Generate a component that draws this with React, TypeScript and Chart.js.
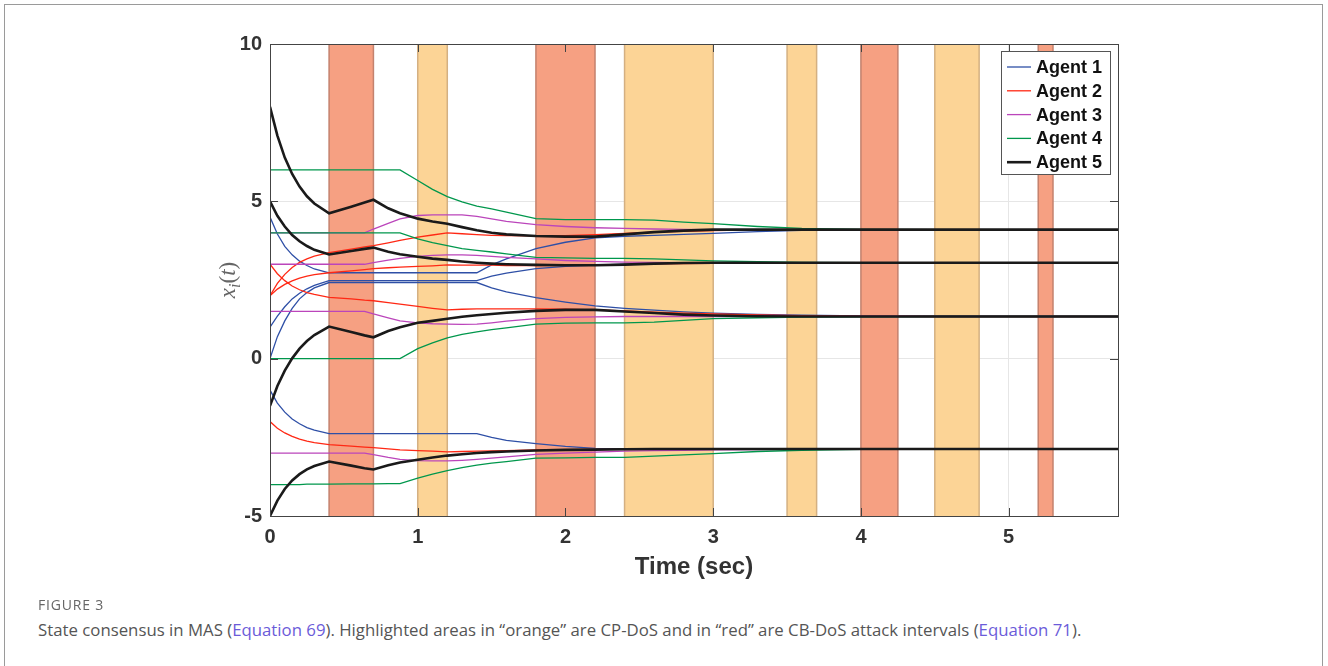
import React, { useEffect, useRef } from "react";
import { Chart, registerables } from "chart.js";

Chart.register(...registerables);

// ---------- data ----------
const TIME = [0, 0.05, 0.1, 0.15, 0.2, 0.25, 0.3, 0.4, 0.55, 0.64, 0.7, 0.8, 0.88, 1.0, 1.1, 1.2, 1.3, 1.4, 1.5, 1.6, 1.8, 2.0, 2.2, 2.4, 2.6, 2.8, 3.0, 3.3, 3.6, 4.0, 4.5, 5.74];

const AGENT1_C1 = [4.5, 3.96, 3.57, 3.3, 3.1, 2.96, 2.85, 2.73, 2.73, 2.73, 2.73, 2.73, 2.73, 2.73, 2.73, 2.73, 2.73, 2.73, 2.98, 3.17, 3.5, 3.7, 3.84, 3.89, 3.92, 3.95, 3.98, 4.04, 4.08, 4.1, 4.1, 4.1];
const AGENT1_C2 = [1.0, 1.35, 1.65, 1.9, 2.08, 2.22, 2.33, 2.48, 2.48, 2.48, 2.48, 2.48, 2.48, 2.48, 2.48, 2.48, 2.48, 2.48, 2.62, 2.72, 2.86, 2.93, 2.97, 3.0, 3.02, 3.03, 3.04, 3.05, 3.05, 3.05, 3.05, 3.05];
const AGENT1_C3 = [0, 0.7, 1.2, 1.6, 1.9, 2.1, 2.25, 2.42, 2.42, 2.42, 2.42, 2.42, 2.42, 2.42, 2.42, 2.42, 2.42, 2.42, 2.25, 2.12, 1.94, 1.8, 1.68, 1.6, 1.54, 1.49, 1.45, 1.41, 1.38, 1.36, 1.35, 1.34];
const AGENT1_C4 = [-1, -1.41, -1.7, -1.92, -2.07, -2.19, -2.27, -2.38, -2.38, -2.38, -2.38, -2.38, -2.38, -2.38, -2.38, -2.38, -2.38, -2.38, -2.5, -2.6, -2.7, -2.79, -2.85, -2.87, -2.87, -2.87, -2.87, -2.87, -2.87, -2.87, -2.87, -2.87];

const AGENT2_C1 = [2, 2.39, 2.68, 2.9, 3.06, 3.17, 3.26, 3.37, 3.48, 3.55, 3.59, 3.68, 3.76, 3.86, 3.93, 4.0, 3.97, 3.94, 3.92, 3.91, 3.9, 3.91, 3.94, 3.98, 4.02, 4.05, 4.07, 4.09, 4.1, 4.1, 4.1, 4.1];
const AGENT2_C2 = [2, 2.21, 2.36, 2.47, 2.56, 2.62, 2.67, 2.73, 2.79, 2.83, 2.86, 2.89, 2.91, 2.93, 2.95, 2.98, 2.97, 2.97, 2.97, 2.96, 2.96, 2.97, 2.98, 2.99, 3.01, 3.02, 3.03, 3.04, 3.05, 3.05, 3.05, 3.05];
const AGENT2_C3 = [3, 2.7, 2.48, 2.31, 2.19, 2.1, 2.04, 1.95, 1.9, 1.86, 1.84, 1.78, 1.73, 1.66, 1.6, 1.55, 1.57, 1.58, 1.58, 1.58, 1.58, 1.57, 1.55, 1.52, 1.48, 1.45, 1.42, 1.39, 1.37, 1.35, 1.34, 1.34];
const AGENT2_C4 = [-2, -2.21, -2.36, -2.47, -2.56, -2.62, -2.67, -2.73, -2.78, -2.81, -2.83, -2.87, -2.9, -2.92, -2.94, -2.96, -2.95, -2.94, -2.93, -2.92, -2.9, -2.89, -2.88, -2.88, -2.87, -2.87, -2.87, -2.87, -2.87, -2.87, -2.87, -2.87];

const AGENT3_C1 = [4, 4, 4, 4, 4, 4, 4, 4, 4, 4, 4.12, 4.3, 4.44, 4.55, 4.57, 4.57, 4.57, 4.52, 4.44, 4.36, 4.26, 4.2, 4.16, 4.14, 4.12, 4.11, 4.1, 4.1, 4.1, 4.1, 4.1, 4.1];
const AGENT3_C2 = [3, 3, 3, 3, 3, 3, 3, 3, 3, 3, 3.05, 3.13, 3.19, 3.25, 3.28, 3.3, 3.3, 3.28, 3.25, 3.22, 3.17, 3.12, 3.09, 3.07, 3.06, 3.05, 3.05, 3.05, 3.05, 3.05, 3.05, 3.05];
const AGENT3_C3 = [1.5, 1.5, 1.5, 1.5, 1.5, 1.5, 1.5, 1.5, 1.5, 1.5, 1.42, 1.3, 1.2, 1.14, 1.11, 1.1, 1.09, 1.1, 1.14, 1.19, 1.27, 1.31, 1.33, 1.34, 1.34, 1.34, 1.34, 1.34, 1.34, 1.34, 1.34, 1.34];
const AGENT3_C4 = [-3, -3, -3, -3, -3, -3, -3, -3, -3, -3, -3.05, -3.14, -3.2, -3.24, -3.25, -3.25, -3.23, -3.2, -3.16, -3.12, -3.04, -3.0, -2.97, -2.94, -2.92, -2.91, -2.9, -2.89, -2.88, -2.87, -2.87, -2.87];

const AGENT4_C1 = [6, 6, 6, 6, 6, 6, 6, 6, 6, 6, 6, 6, 6, 5.66, 5.38, 5.15, 4.98, 4.85, 4.76, 4.66, 4.45, 4.42, 4.42, 4.42, 4.4, 4.34, 4.29, 4.2, 4.14, 4.11, 4.1, 4.1];
const AGENT4_C2 = [4, 4, 4, 4, 4, 4, 4, 4, 4, 4, 4, 4, 4, 3.81, 3.69, 3.59, 3.5, 3.44, 3.39, 3.33, 3.22, 3.2, 3.19, 3.19, 3.17, 3.14, 3.11, 3.08, 3.06, 3.05, 3.05, 3.05];
const AGENT4_C3 = [0, 0, 0, 0, 0, 0, 0, 0, 0, 0, 0, 0, 0, 0.32, 0.5, 0.66, 0.77, 0.85, 0.92, 0.98, 1.1, 1.13, 1.14, 1.14, 1.16, 1.22, 1.27, 1.3, 1.32, 1.33, 1.34, 1.34];
const AGENT4_C4 = [-4, -4, -4, -4, -4, -3.99, -3.99, -3.99, -3.98, -3.98, -3.98, -3.97, -3.97, -3.8, -3.67, -3.56, -3.46, -3.38, -3.32, -3.27, -3.16, -3.15, -3.14, -3.14, -3.1, -3.06, -3.02, -2.95, -2.91, -2.88, -2.87, -2.87];

const AGENT5_C1 = [8, 7.09, 6.39, 5.87, 5.47, 5.16, 4.93, 4.62, 4.83, 4.96, 5.05, 4.78, 4.62, 4.45, 4.36, 4.29, 4.18, 4.08, 4.0, 3.95, 3.9, 3.88, 3.88, 3.95, 4.02, 4.07, 4.1, 4.1, 4.1, 4.1, 4.1, 4.1];
const AGENT5_C2 = [5, 4.54, 4.2, 3.93, 3.73, 3.58, 3.46, 3.31, 3.42, 3.49, 3.53, 3.4, 3.32, 3.24, 3.18, 3.14, 3.09, 3.05, 3.02, 3.0, 2.98, 2.97, 2.97, 2.99, 3.02, 3.04, 3.05, 3.05, 3.05, 3.05, 3.05, 3.05];
const AGENT5_C3 = [-1.5, -0.87, -0.38, 0.01, 0.32, 0.56, 0.75, 1.02, 0.85, 0.74, 0.68, 0.88, 1.0, 1.14, 1.2, 1.27, 1.33, 1.38, 1.42, 1.46, 1.52, 1.55, 1.55, 1.5, 1.45, 1.4, 1.37, 1.35, 1.34, 1.34, 1.34, 1.34];
const AGENT5_C4 = [-5, -4.51, -4.14, -3.87, -3.67, -3.52, -3.41, -3.27, -3.4, -3.48, -3.52, -3.39, -3.3, -3.21, -3.14, -3.08, -3.04, -3.0, -2.97, -2.95, -2.92, -2.9, -2.89, -2.88, -2.87, -2.87, -2.87, -2.87, -2.87, -2.87, -2.87, -2.87];

const AGENT_NAMES = ["Agent 1", "Agent 2", "Agent 3", "Agent 4", "Agent 5"];
const AGENT_STATES = [
  [AGENT1_C1, AGENT1_C2, AGENT1_C3, AGENT1_C4],
  [AGENT2_C1, AGENT2_C2, AGENT2_C3, AGENT2_C4],
  [AGENT3_C1, AGENT3_C2, AGENT3_C3, AGENT3_C4],
  [AGENT4_C1, AGENT4_C2, AGENT4_C3, AGENT4_C4],
  [AGENT5_C1, AGENT5_C2, AGENT5_C3, AGENT5_C4],
];

// attack intervals (sec)
const CP_DOS_INTERVALS = [[1.0, 1.2], [2.4, 3.0], [3.5, 3.7], [4.5, 4.8]];
const CB_DOS_INTERVALS = [[0.4, 0.7], [1.8, 2.2], [4.0, 4.25], [5.2, 5.3]];

const X_MIN = 0;
const X_MAX = 5.74;
const Y_MIN = -5;
const Y_MAX = 10;

// ---------- styles ----------
const AGENT_COLORS = ["#2E4FA6", "#FF2814", "#BB45BB", "#00974C", "#1A1A1A"];
const AGENT_WIDTHS = [1.3, 1.3, 1.3, 1.3, 2.6];
const CB_FILL = "rgb(246,160,130)";
const CB_EDGE = "rgb(196,130,110)";
const CP_FILL = "rgb(252,212,150)";
const CP_EDGE = "rgb(212,176,130)";
const AXIS_COLOR = "#444444";
const TICK_FONT = "Liberation Sans, Arial, sans-serif";

const shadingPlugin = {
  id: "shading",
  beforeDatasetsDraw(chart: any) {
    const { ctx, chartArea, scales } = chart;
    const xs = scales.x;
    ctx.save();
    ctx.beginPath();
    ctx.rect(chartArea.left, chartArea.top, chartArea.right - chartArea.left, chartArea.bottom - chartArea.top);
    ctx.clip();
    const drawSet = (list: number[][], fill: string, edge: string) => {
      for (const [a, b] of list) {
        const x0 = xs.getPixelForValue(a);
        const x1 = xs.getPixelForValue(b);
        ctx.fillStyle = fill;
        ctx.fillRect(x0, chartArea.top, x1 - x0, chartArea.bottom - chartArea.top);
        ctx.strokeStyle = edge;
        ctx.lineWidth = 1.5;
        ctx.beginPath();
        ctx.moveTo(x0, chartArea.top);
        ctx.lineTo(x0, chartArea.bottom);
        ctx.moveTo(x1, chartArea.top);
        ctx.lineTo(x1, chartArea.bottom);
        ctx.stroke();
      }
    };
    drawSet(CB_DOS_INTERVALS, CB_FILL, CB_EDGE);
    drawSet(CP_DOS_INTERVALS, CP_FILL, CP_EDGE);
    ctx.restore();
  },
};

const framePlugin = {
  id: "frame",
  afterDatasetsDraw(chart: any) {
    const { ctx, chartArea, scales } = chart;
    const { left, right, top, bottom } = chartArea;
    ctx.save();
    ctx.strokeStyle = AXIS_COLOR;
    ctx.lineWidth = 1;
    ctx.strokeRect(Math.round(left) + 0.5, Math.round(top) + 0.5, Math.round(right - left), Math.round(bottom - top));
    // inward ticks
    const tl = 8;
    ctx.beginPath();
    for (const t of scales.x.ticks) {
      const px = Math.round(scales.x.getPixelForValue(t.value)) + 0.5;
      ctx.moveTo(px, bottom);
      ctx.lineTo(px, bottom - tl);
      ctx.moveTo(px, top);
      ctx.lineTo(px, top + tl);
    }
    for (const t of scales.y.ticks) {
      const py = Math.round(scales.y.getPixelForValue(t.value)) + 0.5;
      ctx.moveTo(left, py);
      ctx.lineTo(left + tl, py);
      ctx.moveTo(right, py);
      ctx.lineTo(right - tl, py);
    }
    ctx.stroke();
    ctx.restore();
  },
};

const legendPlugin = {
  id: "agentLegend",
  afterDraw(chart: any) {
    const { ctx, chartArea } = chart;
    const boxW = 109;
    const boxH = 123;
    const bx = chartArea.right - 8 - boxW;
    const by = chartArea.top + 7;
    ctx.save();
    ctx.fillStyle = "#ffffff";
    ctx.fillRect(bx, by, boxW, boxH);
    ctx.strokeStyle = "#555555";
    ctx.lineWidth = 1;
    ctx.strokeRect(Math.round(bx) + 0.5, Math.round(by) + 0.5, boxW, boxH);
    ctx.font = `bold 18px ${TICK_FONT}`;
    ctx.textBaseline = "middle";
    ctx.textAlign = "left";
    AGENT_NAMES.forEach((name, i) => {
      const y = by + 16 + i * 23.8;
      ctx.strokeStyle = AGENT_COLORS[i];
      ctx.lineWidth = AGENT_WIDTHS[i];
      ctx.beginPath();
      ctx.moveTo(bx + 6, y);
      ctx.lineTo(bx + 30, y);
      ctx.stroke();
      ctx.fillStyle = "#111111";
      ctx.fillText(name, bx + 35, y + 1);
    });
    ctx.restore();
  },
};

const yLabelPlugin = {
  id: "yLabel",
  afterDraw(chart: any) {
    const { ctx, chartArea } = chart;
    const cx = 228;
    const cy = (chartArea.top + chartArea.bottom) / 2;
    const serif = "Liberation Serif, 'DejaVu Serif', serif";
    const parts = [
      { t: "x", font: `italic 23px ${serif}`, dy: 0 },
      { t: "i", font: `italic 16px ${serif}`, dy: 5 },
      { t: "(", font: `23px ${serif}`, dy: 0 },
      { t: "t", font: `italic 23px ${serif}`, dy: 0 },
      { t: ")", font: `23px ${serif}`, dy: 0 },
    ];
    ctx.save();
    let total = 0;
    const widths = parts.map((p) => {
      ctx.font = p.font;
      const w = ctx.measureText(p.t).width;
      total += w;
      return w;
    });
    ctx.translate(cx, cy);
    ctx.rotate(-Math.PI / 2);
    ctx.fillStyle = "#666666";
    ctx.textBaseline = "alphabetic";
    ctx.textAlign = "left";
    let x = -total / 2;
    parts.forEach((p, i) => {
      ctx.font = p.font;
      ctx.fillText(p.t, x, 7 + p.dy);
      x += widths[i];
    });
    ctx.restore();
  },
};

function buildDatasets() {
  const sets: any[] = [];
  AGENT_STATES.forEach((states, a) => {
    states.forEach((vals, c) => {
      sets.push({
        label: `${AGENT_NAMES[a]} x${c + 1}`,
        data: TIME.map((t, i) => ({ x: t, y: vals[i] })),
        borderColor: AGENT_COLORS[a],
        borderWidth: AGENT_WIDTHS[a],
        pointRadius: 0,
        tension: 0,
        fill: false,
        order: AGENT_NAMES.length - a,
      });
    });
  });
  return sets;
}

export default function App() {
  const ref = useRef<HTMLCanvasElement | null>(null);

  useEffect(() => {
    if (!ref.current) return;
    const chart = new Chart(ref.current, {
      type: "line",
      data: { datasets: buildDatasets() },
      options: {
        responsive: false,
        animation: false,
        devicePixelRatio: 1,
        layout: { padding: { left: 220, top: 44, right: 210, bottom: 14 } },
        plugins: { legend: { display: false }, tooltip: { enabled: false } },
        scales: {
          x: {
            type: "linear",
            min: X_MIN,
            max: X_MAX,
            grid: { color: "#e6e6e6", drawTicks: false },
            border: { display: false },
            ticks: {
              stepSize: 1,
              includeBounds: false,
              padding: 9,
              maxRotation: 0,
              color: "#333333",
              font: { family: TICK_FONT, size: 20, weight: "bold" },
            },
            title: {
              display: true,
              text: "Time (sec)",
              color: "#333333",
              font: { family: TICK_FONT, size: 24, weight: "bold" },
              padding: { top: 0, bottom: 4 },
            },
            afterFit(scale: any) {
              scale.height = 70;
            },
          },
          y: {
            type: "linear",
            min: Y_MIN,
            max: Y_MAX,
            grid: { color: "#e6e6e6", drawTicks: false },
            border: { display: false },
            ticks: {
              stepSize: 5,
              padding: 8,
              color: "#333333",
              font: { family: TICK_FONT, size: 20, weight: "bold" },
            },
            afterFit(scale: any) {
              scale.width = 50;
            },
          },
        },
      } as any,
      plugins: [shadingPlugin, framePlugin, legendPlugin, yLabelPlugin],
    });
    return () => chart.destroy();
  }, []);

  return (
    <div style={{ position: "absolute", left: 0, top: 0, width: 1328, height: 666, overflow: "hidden", background: "#ffffff" }}>
      <div style={{ position: "absolute", left: 4, top: 4, width: 1319, height: 720, border: "1px solid #9a9a9a", boxSizing: "border-box" }} />
      <canvas ref={ref} width={1328} height={600} style={{ position: "absolute", left: 0, top: 0, width: 1328, height: 600 }} />
      <div style={{ position: "absolute", left: 38, top: 595, fontFamily: "'Open Sans', 'Noto Sans', sans-serif", fontSize: 14, color: "#666666", letterSpacing: 0.8 }}>
        FIGURE 3
      </div>
      <div style={{ position: "absolute", left: 38, top: 618, fontFamily: "'Open Sans', 'Noto Sans', sans-serif", fontSize: 16.8, color: "#555555", whiteSpace: "nowrap" }}>
        State consensus in MAS (<span style={{ color: "#6b5bd9" }}>Equation 69</span>). Highlighted areas in “orange” are CP-DoS and in “red” are CB-DoS attack intervals (<span style={{ color: "#6b5bd9" }}>Equation 71</span>).
      </div>
    </div>
  );
}
